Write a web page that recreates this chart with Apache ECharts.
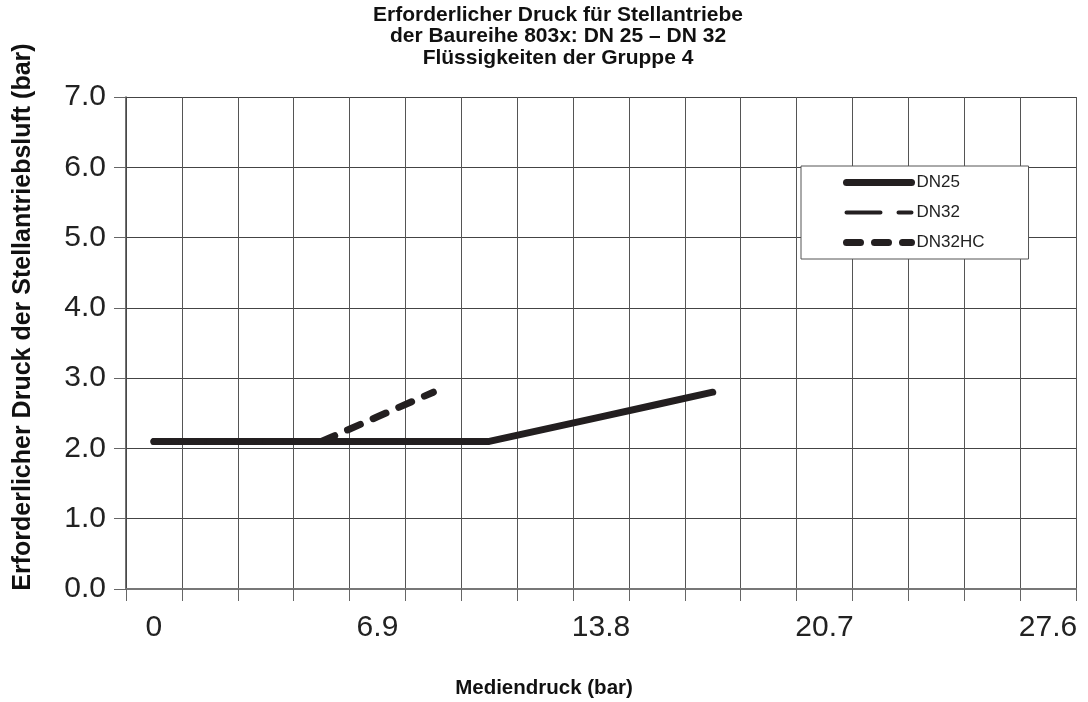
<!DOCTYPE html>
<html>
<head>
<meta charset="utf-8">
<script src="https://cdn.jsdelivr.net/npm/echarts@6/dist/echarts.min.js"></script>
<style>
html,body{margin:0;padding:0;background:#fff;}
#chart{width:1088px;height:702px;}
</style>
</head>
<body>
<div id="chart"></div>
<script>
// Category axis: Mediendruck (bar), one category per grid band
const categories = ['0','1.725','3.45','5.175','6.9','8.625','10.35','12.075','13.8','15.525','17.25','18.975','20.7','22.425','24.15','25.875','27.6'];
const xTickLabels = ['0','6.9','13.8','20.7','27.6'];
const yTickLabels = ['0.0','1.0','2.0','3.0','4.0','5.0','6.0','7.0'];
const seriesNames = ['DN25','DN32','DN32HC'];
const dn25 = [2.1,2.1,2.1,2.1,2.1,2.1,2.1,2.275,2.45,2.625,2.8,null,null,null,null,null,null];
const dn32 = [2.1,2.1,2.1,2.1,2.1,2.1,2.1,2.275,2.45,2.625,2.8,null,null,null,null,null,null];
const dn32hc = [2.1,2.1,2.1,2.1,2.45,2.8,null,null,null,null,null,null,null,null,null,null,null];
const titleLines = ['Erforderlicher Druck für Stellantriebe','der Baureihe 803x: DN 25 – DN 32','Flüssigkeiten der Gruppe 4'];
const xName = 'Mediendruck (bar)';
const yName = 'Erforderlicher Druck der Stellantriebsluft (bar)';

const FONT = '"Liberation Sans", Arial, sans-serif';
const INK = '#231f20';
const styles = [
  {color: INK, width: 7, type: 'solid', cap: 'round', join: 'round'},
  {color: INK, width: 4, type: [34, 18], cap: 'round', join: 'round'},
  {color: INK, width: 7, type: [14, 14], cap: 'round', join: 'round'}
];
const legendStyles = [
  {color: INK, width: 7, type: 'solid', cap: 'round'},
  {color: INK, width: 4, type: [34, 18], cap: 'round'},
  {color: INK, width: 7, type: [14, 14], cap: 'round'}
];
const chart = echarts.init(document.getElementById('chart'), null, {renderer:'canvas'});

const option = {
  animation: false,
  backgroundColor: '#fff',
  textStyle: {fontFamily: FONT},
  grid: {left: 126, right: 12, top: 97, bottom: 113, containLabel: false},
  graphic: titleLines.map((t, i) => ({
    type: 'text', x: 558, y: 15 + i * 21.5,
    style: {text: t, font: 'bold 21px ' + FONT, fill: '#111', align: 'center', verticalAlign: 'middle'}
  })).concat([{
    type: 'text', x: 544, y: 688,
    style: {text: xName, font: 'bold 20.5px ' + FONT, fill: '#111', align: 'center', verticalAlign: 'middle'}
  }, {
    type: 'text', x: 23, y: 317, rotation: Math.PI / 2,
    style: {text: yName, font: 'bold 25px ' + FONT, fill: '#111', align: 'center', verticalAlign: 'middle'}
  }]),
  legend: {
    data: seriesNames.map((n, i) => ({
      name: n,
      itemStyle: {opacity: 0},
      lineStyle: legendStyles[i]
    })),
    orient: 'vertical',
    left: 801, top: 166,
    padding: [8, 44, 8, 42],
    itemWidth: 65, itemHeight: 14, itemGap: 13,
    backgroundColor: '#fff',
    borderColor: '#555', borderWidth: 1,
    textStyle: {fontSize: 17, color: '#222', fontFamily: FONT}
  },
  xAxis: {
    type: 'category',
    data: categories,
    boundaryGap: true,
    axisLine: {show: true, lineStyle: {color: '#777', width: 2}},
    axisTick: {show: true, interval: 0, length: 12, lineStyle: {color: '#666', width: 1}},
    splitLine: {show: true, interval: 0, lineStyle: {color: '#555', width: 1}},
    axisLabel: {
      interval: 3, margin: 24, fontSize: 30, color: '#222', fontFamily: FONT,
      formatter: (v, idx) => xTickLabels[idx / 4]
    }
  },
  yAxis: {
    type: 'value',
    min: 0, max: 7, interval: 1,
    axisLine: {show: true, lineStyle: {color: '#444', width: 1.5}},
    axisTick: {show: true, length: 12, lineStyle: {color: '#666'}},
    splitLine: {show: true, lineStyle: {color: '#444', width: 1}},
    axisLabel: {
      margin: 20, fontSize: 30, color: '#222', fontFamily: FONT,
      formatter: v => yTickLabels[Math.round(v)]
    }
  },
  series: [
    {name: seriesNames[0], type: 'line', data: dn25, symbol: 'none', lineStyle: styles[0], itemStyle: {color: INK}},
    {name: seriesNames[1], type: 'line', data: dn32, symbol: 'none', lineStyle: styles[1], itemStyle: {color: INK}},
    {name: seriesNames[2], type: 'line', data: dn32hc, symbol: 'none', lineStyle: styles[2], itemStyle: {color: INK}}
  ]
};
chart.setOption(option);
</script>
</body>
</html>
